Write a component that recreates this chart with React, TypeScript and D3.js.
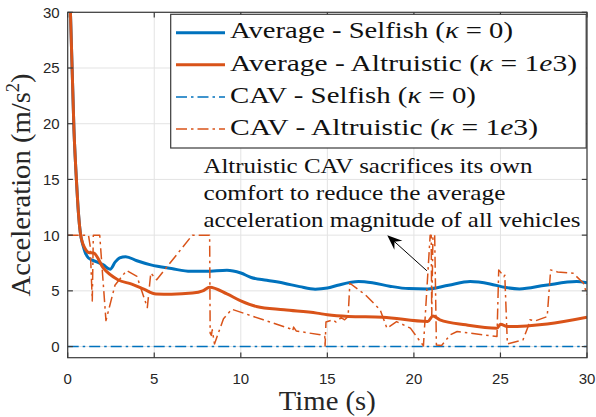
import React, { useEffect, useRef } from 'react';
import * as d3 from 'd3';

type Pt = [number, number];

// Average acceleration magnitude, selfish CAV (kappa = 0)
const avgSelfish: Pt[] = [
  [0.12, 32], [0.36, 19.5], [0.52, 14.5], [0.62, 12], [0.73, 10.2], [0.88, 9.1],
  [1.0, 8.5], [1.2, 7.95], [1.6, 7.65], [2.06, 7.33], [2.45, 6.94], [2.75, 7.6],
  [3.0, 7.95], [3.35, 8.07], [4.0, 7.7], [4.8, 7.33], [6.0, 7.0], [7.1, 6.75],
  [8.0, 6.75], [9.2, 6.85], [10.0, 6.6], [10.6, 6.2], [11.5, 5.95], [12.5, 5.68],
  [13.4, 5.38], [14.3, 5.15], [15.0, 5.25], [15.6, 5.5], [16.8, 5.83], [17.6, 5.72],
  [18.6, 5.42], [19.7, 5.2], [20.8, 5.17], [22.0, 5.5], [23.25, 5.83], [24.4, 5.62],
  [25.3, 5.3], [26.1, 5.17], [27.6, 5.5], [29.4, 5.83], [30.0, 5.72],
];

// Average acceleration magnitude, altruistic CAV (kappa = 1e3)
const avgAltruistic: Pt[] = [
  [0.12, 32], [0.36, 19.5], [0.52, 14.5], [0.62, 12], [0.73, 10.2], [0.88, 9.2],
  [1.0, 8.8], [1.2, 8.45], [1.5, 8.4], [2.06, 7.05], [2.9, 6.0], [3.7, 5.6],
  [4.4, 5.15], [5.1, 4.72], [6.0, 4.7], [7.2, 4.8], [7.8, 5.0], [8.2, 5.33],
  [9.2, 4.73], [10.0, 4.1], [10.9, 3.6], [12.5, 3.3], [14.4, 3.0], [15.0, 2.85],
  [16.2, 2.7], [18.2, 2.63], [20.8, 2.25], [21.1, 2.75], [21.5, 2.4], [23.0, 1.95],
  [24.8, 1.65], [25.0, 2.0], [25.4, 1.8], [27.7, 2.03], [30.0, 2.64],
];

// CAV's own acceleration, selfish
const cavSelfish: Pt[] = [[0, 0], [30, 0]];

// CAV's own acceleration, altruistic
const cavAltruistic: Pt[] = [
  [0, 10], [1.2, 10], [1.3, 9], [1.42, 4.1], [1.48, 10], [1.85, 10], [1.92, 8.5],
  [2.21, 2.33], [2.73, 5.5], [3.4, 6.82], [4.0, 6.3], [4.6, 3.5], [4.8, 6.6],
  [5.14, 6.0], [7.2, 10], [8.2, 10], [8.23, 1.2], [8.3, 1.0], [8.35, 1.5],
  [8.48, 0.24], [9.0, 2.5], [9.48, 3.35], [11.3, 2.4], [12.85, 1.6], [13.0, 1.4],
  [13.05, 1.75], [13.2, 1.4], [14.6, 1.05], [14.85, 0.9], [14.87, 0.05], [14.92, 2.2],
  [15.3, 2.4], [15.5, 2.2], [15.8, 2.6], [16.0, 2.4], [16.2, 2.7], [16.3, 5.68],
  [17.2, 4.64], [18.05, 3.3], [18.44, 1.65], [19.0, 2.24], [19.8, 1.65], [20.55, 0.06],
  [20.94, 10], [21.0, 10], [21.03, 2.7], [21.1, 10], [21.2, 10], [21.3, 0.15],
  [21.6, 0.1], [22.1, 1.05], [22.5, 1.35], [24.8, 0.9], [24.9, 6.88], [25.2, 6.28],
  [25.25, 6.4], [25.4, 0.24], [26.3, 0.6], [26.6, 1.8], [26.7, 2.4], [27.0, 2.3],
  [27.7, 2.69], [27.9, 6.88], [28.3, 6.7], [29.2, 6.58], [29.8, 5.68], [30.0, 4.64],
];

const xTicks = [0, 5, 10, 15, 20, 25, 30];
const yTicks = [0, 5, 10, 15, 20, 25, 30];

const legendNames = ['Average - Selfish', 'Average - Altruistic', 'CAV - Selfish', 'CAV - Altruistic'];
const legendKappa = ['0', '1e3', '0', '1e3'];
const legendWidths = [283, 347, 246, 308];

const noteLines = [
  'Altruistic CAV sacrifices its own',
  'comfort to reduce the average',
  'acceleration magnitude of all vehicles',
];
const noteWidths = [329, 302, 377];
const arrowTail: Pt = [20.75, 6.8];
const arrowTip: Pt = [18.46, 10.0];
const noteAnchor: Pt = [7.84, 15.55];

const BLUE = '#0072BD';
const ORANGE = '#D95319';

const App: React.FC = () => {
  const svgRef = useRef<SVGSVGElement>(null);
  const width = 596;
  const height = 417;

  useEffect(() => {
    const svg = d3.select(svgRef.current);
    svg.selectAll('*').remove();

    const m = { left: 67.7, right: 9, top: 12.3, bottom: 59.3 };
    const x = d3.scaleLinear().domain([0, 30]).range([m.left, width - m.right]);
    const y = d3.scaleLinear().domain([-1, 30]).range([height - m.bottom, m.top]);
    const [x0, x1] = x.range();
    const [y0, y1] = y.range();

    svg.append('rect').attr('width', width).attr('height', height).attr('fill', 'white');

    // grid
    const grid = svg.append('g').attr('stroke', '#e3e3e3').attr('stroke-width', 1);
    xTicks.forEach(t => grid.append('line').attr('x1', x(t)).attr('x2', x(t)).attr('y1', y0).attr('y2', y1));
    yTicks.forEach(t => grid.append('line').attr('x1', x0).attr('x2', x1).attr('y1', y(t)).attr('y2', y(t)));

    svg.append('clipPath').attr('id', 'plotclip')
      .append('rect').attr('x', x0).attr('y', y1).attr('width', x1 - x0).attr('height', y0 - y1);

    const series = [
      { data: avgSelfish, color: BLUE, w: 3, dash: null, curve: d3.curveMonotoneX },
      { data: avgAltruistic, color: ORANGE, w: 3, dash: null, curve: d3.curveMonotoneX },
      { data: cavSelfish, color: BLUE, w: 1.5, dash: '11 4 2.5 4', curve: d3.curveLinear },
      { data: cavAltruistic, color: ORANGE, w: 1.5, dash: '11 4 2.5 4', curve: d3.curveLinear },
    ];

    const plot = svg.append('g').attr('clip-path', 'url(#plotclip)');
    series.forEach(s => {
      const line = d3.line<Pt>().x(d => x(d[0])).y(d => y(d[1])).curve(s.curve);
      plot.append('path')
        .attr('d', line(s.data) || '')
        .attr('fill', 'none')
        .attr('stroke', s.color)
        .attr('stroke-width', s.w)
        .attr('stroke-linejoin', 'round')
        .attr('stroke-dasharray', s.dash);
    });

    // axes box and ticks
    const axisColor = '#3a3a3a';
    const ax = svg.append('g').attr('stroke', axisColor).attr('stroke-width', 1.2);
    ax.append('rect').attr('x', x0).attr('y', y1).attr('width', x1 - x0).attr('height', y0 - y1).attr('fill', 'none');
    const tl = 5.2;
    xTicks.forEach(t => {
      ax.append('line').attr('x1', x(t)).attr('x2', x(t)).attr('y1', y0).attr('y2', y0 - tl);
      ax.append('line').attr('x1', x(t)).attr('x2', x(t)).attr('y1', y1).attr('y2', y1 + tl);
    });
    yTicks.forEach(t => {
      ax.append('line').attr('x1', x0).attr('x2', x0 + tl).attr('y1', y(t)).attr('y2', y(t));
      ax.append('line').attr('x1', x1).attr('x2', x1 - tl).attr('y1', y(t)).attr('y2', y(t));
    });

    const tickFont = "'Liberation Sans', Arial, sans-serif";
    svg.append('g').selectAll('text').data(xTicks).enter().append('text')
      .attr('x', d => x(d)).attr('y', y0 + 25.8)
      .attr('text-anchor', 'middle').attr('font-family', tickFont).attr('font-size', 15)
      .attr('fill', '#262626').text(d => d);
    svg.append('g').selectAll('text').data(yTicks).enter().append('text')
      .attr('x', x0 - 8).attr('y', d => y(d) + 5.4)
      .attr('text-anchor', 'end').attr('font-family', tickFont).attr('font-size', 15)
      .attr('fill', '#262626').text(d => d);

    const serif = "'Liberation Serif', 'Times New Roman', serif";

    // axis labels
    svg.append('text')
      .attr('x', (x0 + x1) / 2).attr('y', 410)
      .attr('text-anchor', 'middle').attr('font-family', serif).attr('font-size', 28)
      .attr('fill', '#262626').attr('textLength', 97).attr('lengthAdjust', 'spacingAndGlyphs')
      .text('Time (s)');
    const yl = svg.append('text')
      .attr('transform', `translate(30, ${(y0 + y1) / 2}) rotate(-90)`)
      .attr('text-anchor', 'middle').attr('font-family', serif).attr('font-size', 28)
      .attr('fill', '#262626').attr('textLength', 223).attr('lengthAdjust', 'spacingAndGlyphs');
    yl.append('tspan').text('Acceleration (m/s');
    yl.append('tspan').attr('font-size', 18).attr('dy', -11).text('2');
    yl.append('tspan').attr('dy', 11).text(')');

    // legend
    const lg = svg.append('g');
    lg.append('rect').attr('x', 170.7).attr('y', 14.3).attr('width', 415.5).attr('height', 133.7)
      .attr('fill', 'white').attr('stroke', axisColor).attr('stroke-width', 1.2);
    legendNames.forEach((name, i) => {
      const s = series[i];
      const cy = 32.7 + i * 32.1;
      lg.append('line').attr('x1', 176).attr('x2', 225).attr('y1', cy).attr('y2', cy)
        .attr('stroke', s.color).attr('stroke-width', s.w).attr('stroke-dasharray', s.dash);
      const t = lg.append('text').attr('x', 230).attr('y', cy + 5.7)
        .attr('font-family', serif).attr('font-size', 23).attr('fill', '#111')
        .attr('textLength', legendWidths[i]).attr('lengthAdjust', 'spacingAndGlyphs');
      t.append('tspan').text(`${name} (`);
      t.append('tspan').attr('font-style', 'italic').text('\u03BA');
      t.append('tspan').text(' = ');
      const k = legendKappa[i];
      if (k.includes('e')) {
        const [a, b] = k.split('e');
        t.append('tspan').text(a);
        t.append('tspan').attr('font-style', 'italic').text('e');
        t.append('tspan').text(b);
      } else {
        t.append('tspan').text(k);
      }
      t.append('tspan').text(')');
    });

    // annotation
    noteLines.forEach((ln, i) => {
      svg.append('text')
        .attr('x', x(noteAnchor[0])).attr('y', y(noteAnchor[1]) + i * 27)
        .attr('font-family', serif).attr('font-size', 22).attr('fill', '#111')
        .attr('textLength', noteWidths[i]).attr('lengthAdjust', 'spacingAndGlyphs')
        .text(ln);
    });
    const tx = x(arrowTail[0]), ty = y(arrowTail[1]);
    const hx = x(arrowTip[0]), hy = y(arrowTip[1]);
    const dx = hx - tx, dy = hy - ty;
    const len = Math.hypot(dx, dy);
    const ux = dx / len, uy = dy / len;
    const px = -uy, py = ux;
    const hl = 15, hw = 6;
    svg.append('line').attr('x1', tx).attr('y1', ty)
      .attr('x2', hx - ux * hl * 0.6).attr('y2', hy - uy * hl * 0.6)
      .attr('stroke', '#000').attr('stroke-width', 1);
    const head: Pt[] = [
      [hx, hy],
      [hx - ux * hl + px * hw, hy - uy * hl + py * hw],
      [hx - ux * hl * 0.65, hy - uy * hl * 0.65],
      [hx - ux * hl - px * hw, hy - uy * hl - py * hw],
    ];
    svg.append('polygon').attr('points', head.map(p => p.join(',')).join(' ')).attr('fill', '#000');
  }, []);

  return (
    <svg ref={svgRef} width={width} height={height}
      style={{ position: 'absolute', left: 0, top: 0, display: 'block' }} />
  );
};

export default App;
